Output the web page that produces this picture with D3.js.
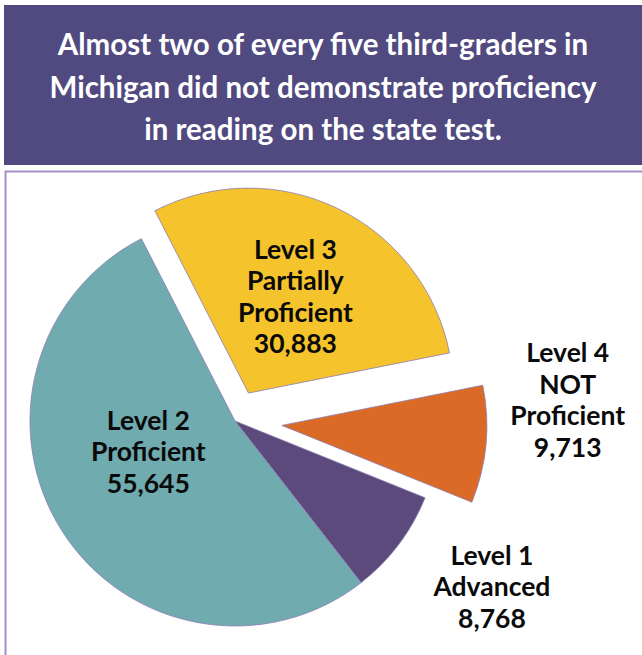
<!DOCTYPE html>
<html>
<head>
<meta charset="utf-8">
<script src="https://cdn.jsdelivr.net/npm/d3@7"></script>
<style>
  body { margin: 0; background: #fff; }
  svg { display: block; }
</style>
</head>
<body>
<div id="chart"></div>
<script>
// data
const levels = ["Level 1", "Level 2", "Level 3", "Level 4"];
const levelNames = [["Advanced"], ["Proficient"], ["Partially", "Proficient"], ["NOT", "Proficient"]];
const students = [8768, 55645, 30883, 9713];
const sliceColors = ["#5D4A7D", "#6FABAF", "#F5C32C", "#DC6A27"];
const exploded = [false, false, true, true];
const titleLines = [
    "Almost two of every five third-graders in",
    "Michigan did not demonstrate proficiency",
    "in reading on the state test."
];

const width = 642, height = 655;
const fmt = d3.format(",");

const svg = d3.select("#chart").append("svg")
    .attr("width", width)
    .attr("height", height);

/** title banner */
svg.append("rect")
    .attr("x", 4).attr("y", 5)
    .attr("width", width - 4).attr("height", 160)
    .attr("fill", "#504A80");

svg.selectAll("text.title")
    .data(titleLines)
    .join("text")
    .attr("class", "title")
    .attr("x", 323)
    .attr("y", (d, i) => 55 + i * 42.5)
    .attr("text-anchor", "middle")
    .attr("fill", "#fff")
    .style("font-family", "Lato, 'Open Sans', sans-serif")
    .style("font-weight", "bold")
    .style("font-size", "29.5px")
    .text(d => d);

/** frame round the chart */
svg.append("rect")
    .attr("x", 5.5).attr("y", 171.5)
    .attr("width", width + 10).attr("height", height)
    .attr("fill", "none")
    .attr("stroke", "#A58FC4")
    .attr("stroke-width", 2);

/** pie */
const cx = 235, cy = 421, radius = 205;
const startAngle = 112 * Math.PI / 180;

const pie = d3.pie()
    .sort(null)
    .startAngle(startAngle)
    .endAngle(startAngle + 2 * Math.PI)
    .value(d => d);

const arc = d3.arc().innerRadius(0).outerRadius(radius);
const arcs = pie(students);

// how far the cut-out slices are pulled away from the centre
const explodeDist = [0, 0, 31, 47];

const offset = (d, i) => {
    const a = (d.startAngle + d.endAngle) / 2;
    const k = exploded[i] ? explodeDist[i] : 0;
    return [Math.sin(a) * k, -Math.cos(a) * k];
};

const pieGroup = svg.append("g")
    .attr("transform", `translate(${cx},${cy})`);

pieGroup.selectAll("path")
    .data(arcs)
    .join("path")
    .attr("transform", (d, i) => `translate(${offset(d, i)})`)
    .attr("d", arc)
    .attr("fill", (d, i) => sliceColors[i])
    .attr("stroke", "#8C7DB4")
    .attr("stroke-width", 0.8);

/** labels: angle (deg) and distance from each slice's own vertex */
const labelPlace = [
    {angle: 122.9, dist: 306},
    {angle: 250.4, dist: 92},
    {angle: 26, dist: 107},
    {angle: 85, dist: 287}
];
const lineH = 31.5;

arcs.forEach((d, i) => {
    const [ox, oy] = offset(d, i);
    const a = labelPlace[i].angle * Math.PI / 180;
    const lx = ox + Math.sin(a) * labelPlace[i].dist;
    const ly = oy - Math.cos(a) * labelPlace[i].dist;
    const lines = [levels[i]].concat(levelNames[i], fmt(students[i]));
    const top = ly - (lines.length - 1) * lineH / 2;
    pieGroup.append("g")
        .selectAll("text")
        .data(lines)
        .join("text")
        .attr("x", lx)
        .attr("y", (t, j) => top + j * lineH)
        .attr("dy", "0.35em")
        .attr("text-anchor", "middle")
        .attr("fill", "#0a0a0a")
        .style("font-family", "Lato, 'Open Sans', sans-serif")
        .style("font-weight", "bold")
        .style("font-size", "26.5px")
        .text(t => t);
});
</script>
</body>
</html>
